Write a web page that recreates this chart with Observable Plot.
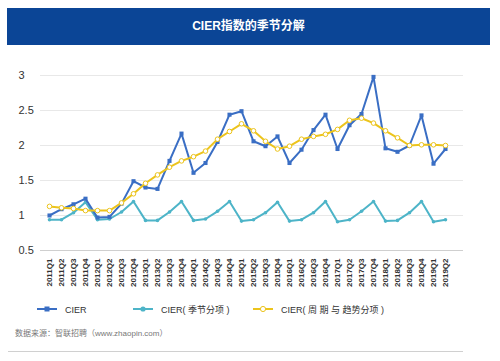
<!DOCTYPE html>
<html>
<head>
<meta charset="utf-8">
<script src="https://cdn.jsdelivr.net/npm/d3@7"></script>
<script src="https://cdn.jsdelivr.net/npm/@observablehq/plot@0.6"></script>
<style>
  html, body { margin: 0; padding: 0; background: #fff; }
  #wrap { position: relative; width: 500px; height: 361px; overflow: hidden; font-family: "Liberation Sans", Arial, sans-serif; }
  #title { position: absolute; left: 7px; top: 8px; width: 483px; height: 37px; background: #0b4596; color: #fff;
           font: bold 12px "Liberation Sans", "Noto Sans CJK SC", sans-serif; line-height: 37px; text-align: center; }
  #chart { position: absolute; left: 0; top: 0; }
  #legend { position: absolute; left: 0; top: 300px; width: 500px; height: 20px; }
  #source { position: absolute; left: 15px; top: 327px; font: 8px "Liberation Sans", "Noto Sans CJK SC", sans-serif; color: #777; }
  #rule { position: absolute; left: 8px; top: 351px; width: 455px; height: 1px; background: #d0d0d0; }
</style>
</head>
<body>
<div id="wrap">
  <div id="chart"></div>
  <div id="title">CIER指数的季节分解</div>
  <div id="legend"></div>
  <div id="source">数据来源：智联招聘（www.zhaopin.com）</div>
  <div id="rule"></div>
</div>
<script>
const quarters = [
  "2011Q1","2011Q2","2011Q3","2011Q4","2012Q1","2012Q2","2012Q3","2012Q4",
  "2013Q1","2013Q2","2013Q3","2013Q4","2014Q1","2014Q2","2014Q3","2014Q4",
  "2015Q1","2015Q2","2015Q3","2015Q4","2016Q1","2016Q2","2016Q3","2016Q4",
  "2017Q1","2017Q2","2017Q3","2017Q4","2018Q1","2018Q2","2018Q3","2018Q4",
  "2019Q1","2019Q2"
];
const cier = [
  1.00, 1.09, 1.16, 1.24, 0.97, 0.98, 1.17, 1.49,
  1.40, 1.38, 1.78, 2.17, 1.61, 1.75, 2.05, 2.44,
  2.49, 2.06, 1.99, 2.13, 1.75, 1.94, 2.22, 2.44,
  1.95, 2.29, 2.45, 2.98, 1.96, 1.91, 2.00, 2.43,
  1.74, 1.95
];
const seasonal = [
  0.94, 0.94, 1.04, 1.19, 0.94, 0.95, 1.05, 1.20,
  0.93, 0.93, 1.05, 1.20, 0.93, 0.95, 1.06, 1.20,
  0.92, 0.94, 1.04, 1.19, 0.92, 0.94, 1.04, 1.20,
  0.91, 0.94, 1.06, 1.20, 0.92, 0.93, 1.04, 1.20,
  0.91, 0.94
];
const trend = [
  1.13, 1.11, 1.10, 1.07, 1.07, 1.07, 1.18, 1.31,
  1.46, 1.58, 1.69, 1.78, 1.84, 1.92, 2.09, 2.20,
  2.31, 2.21, 2.06, 1.95, 1.99, 2.09, 2.13, 2.16,
  2.23, 2.36, 2.39, 2.32, 2.21, 2.11, 2.00, 2.01,
  2.01, 2.00
];
const yTicks = [0.5, 1, 1.5, 2, 2.5, 3];
const seriesNames = ["CIER", "CIER( 季节分项 )", "CIER( 周 期 与 趋势分项 )"];

const colCier = "#3a6ec4", colSeas = "#4db4c8", colTrend = "#ecc41c";

const rowsC = quarters.map((q, i) => ({q, v: cier[i]}));
const rowsS = quarters.map((q, i) => ({q, v: seasonal[i]}));
const rowsT = quarters.map((q, i) => ({q, v: trend[i]}));

const chart = Plot.plot({
  width: 500, height: 295,
  marginLeft: 40, marginRight: 37, marginTop: 75, marginBottom: 45,
  style: {fontFamily: "'Liberation Sans', Arial, sans-serif", color: "#333", background: "transparent"},
  x: {type: "point", domain: quarters, range: [42, 452], label: null},
  y: {domain: [0.5, 3], label: null},
  marks: [
    Plot.ruleY(yTicks.filter(d => d > 0.5), {stroke: "#e8e8e8", strokeWidth: 1}),
    Plot.ruleY([0.5], {stroke: "#cfcfcf", strokeWidth: 1}),
    Plot.axisY({ticks: yTicks, tickSize: 0, tickPadding: 22, textAnchor: "start", fontSize: 11, tickFormat: d => String(d), label: null}),
    Plot.axisX({tickRotate: -90, tickSize: 0, tickPadding: 8, fontSize: 8, fontWeight: "bold", label: null}),
    Plot.line(rowsS, {x: "q", y: "v", stroke: colSeas, strokeWidth: 2}),
    Plot.dot(rowsS, {x: "q", y: "v", fill: colSeas, r: 1.8}),
    Plot.line(rowsC, {x: "q", y: "v", stroke: colCier, strokeWidth: 2}),
    Plot.dot(rowsC, {x: "q", y: "v", fill: colCier, symbol: "square", r: 2.3}),
    Plot.line(rowsT, {x: "q", y: "v", stroke: colTrend, strokeWidth: 2}),
    Plot.dot(rowsT, {x: "q", y: "v", fill: "#fff", stroke: colTrend, strokeWidth: 1, r: 2.3})
  ]
});
document.getElementById("chart").appendChild(chart);

// legend
const legendItems = [
  {name: seriesNames[0], color: colCier, x: 37, kind: "square"},
  {name: seriesNames[1], color: colSeas, x: 133, kind: "dot"},
  {name: seriesNames[2], color: colTrend, x: 253, kind: "open"}
];
const ns = "http://www.w3.org/2000/svg";
const lsvg = document.createElementNS(ns, "svg");
lsvg.setAttribute("width", 500); lsvg.setAttribute("height", 20);
legendItems.forEach(it => {
  const cy = 9;
  const ln = document.createElementNS(ns, "line");
  ln.setAttribute("x1", it.x); ln.setAttribute("x2", it.x + 20);
  ln.setAttribute("y1", cy); ln.setAttribute("y2", cy);
  ln.setAttribute("stroke", it.color); ln.setAttribute("stroke-width", 2);
  lsvg.appendChild(ln);
  const cx = it.x + 10;
  let m;
  if (it.kind === "square") {
    m = document.createElementNS(ns, "rect");
    m.setAttribute("x", cx - 2.5); m.setAttribute("y", cy - 2.5);
    m.setAttribute("width", 5); m.setAttribute("height", 5);
    m.setAttribute("fill", it.color);
  } else {
    m = document.createElementNS(ns, "circle");
    m.setAttribute("cx", cx); m.setAttribute("cy", cy); m.setAttribute("r", 2.6);
    if (it.kind === "open") { m.setAttribute("fill", "#fff"); m.setAttribute("stroke", it.color); }
    else m.setAttribute("fill", it.color);
  }
  lsvg.appendChild(m);
  const t = document.createElementNS(ns, "text");
  t.setAttribute("x", it.x + 28); t.setAttribute("y", cy + 3.5);
  t.setAttribute("font-size", 9);
  t.setAttribute("font-family", "'Liberation Sans', 'Noto Sans CJK SC', sans-serif");
  t.setAttribute("fill", "#333");
  t.textContent = it.name;
  lsvg.appendChild(t);
});
document.getElementById("legend").appendChild(lsvg);
</script>
</body>
</html>
